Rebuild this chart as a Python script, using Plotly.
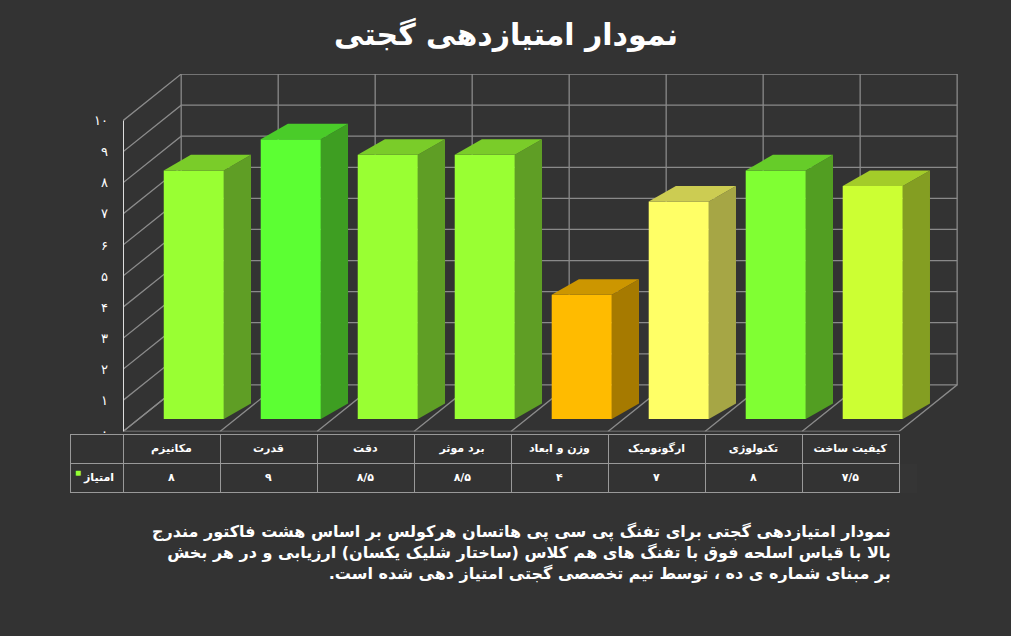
import plotly.graph_objects as go

categories = ["مکانیزم", "قدرت", "دقت", "برد موثر", "وزن و ابعاد", "ارگونومیک", "تکنولوژی", "کیفیت ساخت"]
values = [8, 9, 8.5, 8.5, 4, 7, 8, 7.5]
value_labels = ["۸", "۹", "۸/۵", "۸/۵", "۴", "۷", "۸", "۷/۵"]
front_colors = ["#99ff33", "#5cff33", "#99ff33", "#99ff33", "#ffbb00", "#ffff66", "#80ff33", "#ccff33"]
side_colors = ["#5f9e25", "#3e9e22", "#5f9e25", "#5f9e25", "#a67a00", "#a6a645", "#529e22", "#849e22"]
top_colors = ["#7acc29", "#4acc29", "#7acc29", "#7acc29", "#cc9600", "#cccc52", "#66cc29", "#a3cc29"]
y_ticks = [0, 1, 2, 3, 4, 5, 6, 7, 8, 9, 10]
y_ticktext = ["۰", "۱", "۲", "۳", "۴", "۵", "۶", "۷", "۸", "۹", "۱۰"]

DX, DY = 0.6, 1.5          # wall depth
BX, BY = 0.23, 0.4         # bar front offset
BW = 0.62                  # bar width
SX, SY = 0.28, 0.5         # bar side depth
n = len(categories)
grid = "#8a8a8a"

fig = go.Figure()

gx, gy = [], []
for t in y_ticks:
    gx += [-0.5, -0.5 + DX, n - 0.5 + DX, None]
    gy += [t, t + DY, t + DY, None]
for k in range(n + 1):
    gx += [k - 0.5, k - 0.5 + DX, k - 0.5 + DX, None]
    gy += [0, DY, 10 + DY, None]
gx += [-0.5, n - 0.5, None]
gy += [0, 0, None]
fig.add_trace(go.Scatter(x=gx, y=gy, mode="lines", line=dict(color=grid, width=1.3), hoverinfo="skip"))
fig.add_trace(go.Scatter(x=[-0.5, -0.5], y=[0, 10], mode="lines", line=dict(color="#dddddd", width=2), hoverinfo="skip"))

for i, v in enumerate(values):
    x0 = i - BW / 2 + BX
    x1 = x0 + BW
    y0 = BY
    y1 = BY + v
    faces = [
        ([x0, x1, x1, x0, x0], [y0, y0, y1, y1, y0], front_colors[i]),
        ([x1, x1 + SX, x1 + SX, x1, x1], [y0, y0 + SY, y1 + SY, y1, y0], side_colors[i]),
        ([x0, x1, x1 + SX, x0 + SX, x0], [y1, y1, y1 + SY, y1 + SY, y1], top_colors[i]),
    ]
    for fx, fy, c in faces:
        fig.add_trace(go.Scatter(x=fx, y=fy, fill="toself", fillcolor=c, mode="lines",
                                 line=dict(width=0, color=c), hoverinfo="skip"))

fig.add_trace(go.Table(
    domain=dict(x=[70 / 1011, 899 / 1011], y=[1 - 500 / 636, 1 - 440 / 636]),
    columnwidth=[53] + [97] * n,
    header=dict(values=[""] + [f"<b>{c}</b>" for c in categories], fill_color="#333333",
                line_color="#999999", font=dict(color="white", size=11, family="DejaVu Sans"),
                align="center", height=25),
    cells=dict(values=[["<b>امتیاز</b>"]] + [[f"<b>{l}</b>"] for l in value_labels],
               fill_color="#333333", line_color="#999999",
               font=dict(color="white", size=11, family="DejaVu Sans"),
               align=["right"] + ["center"] * n, height=24),
))

fig.update_layout(
    width=1011, height=636, paper_bgcolor="#333333", plot_bgcolor="#333333",
    margin=dict(l=0, r=0, t=0, b=0), showlegend=False,
    xaxis=dict(domain=[123 / 1011, 962 / 1011], range=[-0.5, n - 0.5 + DX + 0.05],
               showgrid=False, zeroline=False, showticklabels=False, fixedrange=True),
    yaxis=dict(domain=[1 - 437 / 636, 1 - 75 / 636], range=[0, 10 + DY], tickvals=y_ticks,
               ticktext=y_ticktext, showgrid=False, zeroline=False, ticklabelstandoff=14,
               tickfont=dict(color="white", size=13, family="DejaVu Sans")),
    annotations=[
        dict(text="<b>نمودار امتیازدهی گجتی</b>", x=0.5, y=1 - 35 / 636, xref="paper", yref="paper",
             yanchor="middle", showarrow=False, font=dict(size=30, color="white", family="DejaVu Sans")),
        dict(text="■", x=73 / 1011, y=1 - 478 / 636, xref="paper", yref="paper", xanchor="left",
             yanchor="middle", showarrow=False, font=dict(size=10, color="#99ff33")),
        dict(text="<b>نمودار امتیازدهی گجتی برای تفنگ پی سی پی هاتسان هرکولس بر اساس هشت فاکتور مندرج<br>"
                  "بالا با قیاس اسلحه فوق با تفنگ های هم کلاس (ساختار شلیک یکسان) ارزیابی و در هر بخش<br>"
                  "بر مبنای شماره ی ده ، توسط تیم تخصصی گجتی امتیاز دهی شده است.\u200f</b>",
             x=893 / 1011, y=1 - 560 / 636, xref="paper", yref="paper", xanchor="right", yanchor="middle",
             align="right", showarrow=False, font=dict(size=16, color="white", family="DejaVu Sans")),
    ],
)
fig.write_html("out.html", post_script="document.body.style.margin='0';",
               config={"displayModeBar": False})
